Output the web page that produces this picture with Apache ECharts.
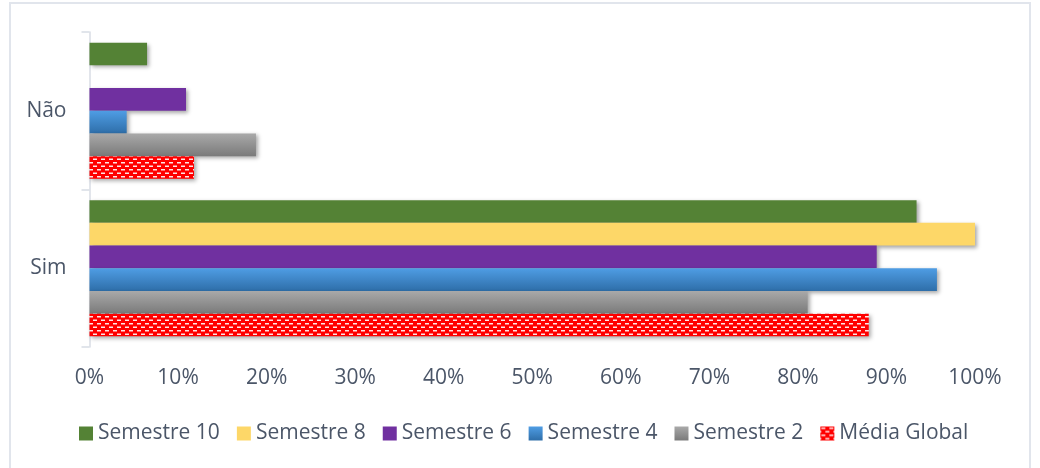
<!DOCTYPE html>
<html>
<head>
<meta charset="utf-8">
<script src="https://cdn.jsdelivr.net/npm/echarts@6/dist/echarts.min.js"></script>
<style>
  html, body { margin: 0; padding: 0; background: #fff; }
  #chart { width: 1040px; height: 468px; }
</style>
</head>
<body>
<div id="chart"></div>
<script>
// categorias (de baixo para cima)
const categories = ['Sim', 'Não'];
const seriesNames = ['Semestre 10', 'Semestre 8', 'Semestre 6', 'Semestre 4', 'Semestre 2', 'Média Global'];
// valores em %, [Sim, Não]
const sem10 = [93.4, 6.5];
const sem8 = [100, 0];
const sem6 = [88.9, 10.9];
const sem4 = [95.7, 4.2];
const sem2 = [81.1, 18.8];
const mediaGlobal = [88.0, 11.8];
const xTicks = [0, 10, 20, 30, 40, 50, 60, 70, 80, 90, 100];

const textColor = '#4b5668';
const fontFamily = '"Open Sans", sans-serif';

// padrão vermelho com traços brancos (Média Global)
function makePattern() {
    const c = document.createElement('canvas');
    c.width = 8;
    c.height = 7;
    const ctx = c.getContext('2d');
    ctx.fillStyle = '#ff0000';
    ctx.fillRect(0, 0, 8, 7);
    ctx.fillStyle = 'rgba(255,255,255,0.9)';
    ctx.fillRect(1, 1, 4, 1.5);
    ctx.fillRect(5, 4.5, 4, 1.5);
    ctx.fillRect(-3, 4.5, 4, 1.5);
    return c;
}

const shadow = {
    shadowColor: 'rgba(0, 0, 0, 0.35)',
    shadowBlur: 4,
    shadowOffsetX: 2,
    shadowOffsetY: 2
};

const grad = (top, bottom) => new echarts.graphic.LinearGradient(0, 0, 0, 1, [
    { offset: 0, color: top },
    { offset: 1, color: bottom }
]);

const styles = [
    { color: '#548235' },
    { color: '#fdd768' },
    { color: '#7030a0' },
    { color: grad('#4f9de4', '#2e6ea9') },
    { color: grad('#a9a9a9', '#7a7a7a') },
    { color: { image: makePattern(), repeat: 'repeat' } }
];
const values = [sem10, sem8, sem6, sem4, sem2, mediaGlobal];

const myEcharts = echarts.init(document.getElementById('chart'), null, { renderer: 'canvas' });

const option = {
    animation: false,
    textStyle: { fontFamily: fontFamily },
    graphic: [{
        type: 'rect',
        shape: { x: 10, y: 3, width: 1020, height: 480 },
        style: { fill: 'none', stroke: '#e1e5ec', lineWidth: 2 },
        silent: true
    }],
    grid: {
        left: 89.5,
        right: 65,
        top: 32,
        bottom: 121
    },
    legend: {
        data: seriesNames,
        left: 79,
        top: 423,
        padding: 0,
        itemWidth: 14,
        itemHeight: 14,
        itemGap: 17,
        icon: 'rect',
        textStyle: { color: textColor, fontSize: 21, fontFamily: fontFamily }
    },
    xAxis: {
        type: 'value',
        min: 0,
        max: 100,
        interval: 10,
        axisLine: { show: false },
        axisTick: { show: false },
        splitLine: { show: false },
        axisLabel: {
            color: textColor,
            fontSize: 21,
            margin: 21,
            formatter: v => xTicks.includes(v) ? v + '%' : ''
        }
    },
    yAxis: {
        type: 'category',
        data: categories,
        axisLine: { lineStyle: { color: '#d8dde5', width: 1.5 } },
        axisTick: { show: true, length: 8, lineStyle: { color: '#d8dde5', width: 1.5 } },
        axisLabel: { color: textColor, fontSize: 21, margin: 23 }
    },
    series: seriesNames.map((name, i) => ({
        name: name,
        type: 'bar',
        data: values[i],
        barGap: 0,
        barCategoryGap: '13.5%',
        itemStyle: Object.assign({}, styles[i], shadow)
    }))
};

myEcharts.setOption(option);
</script>
</body>
</html>
